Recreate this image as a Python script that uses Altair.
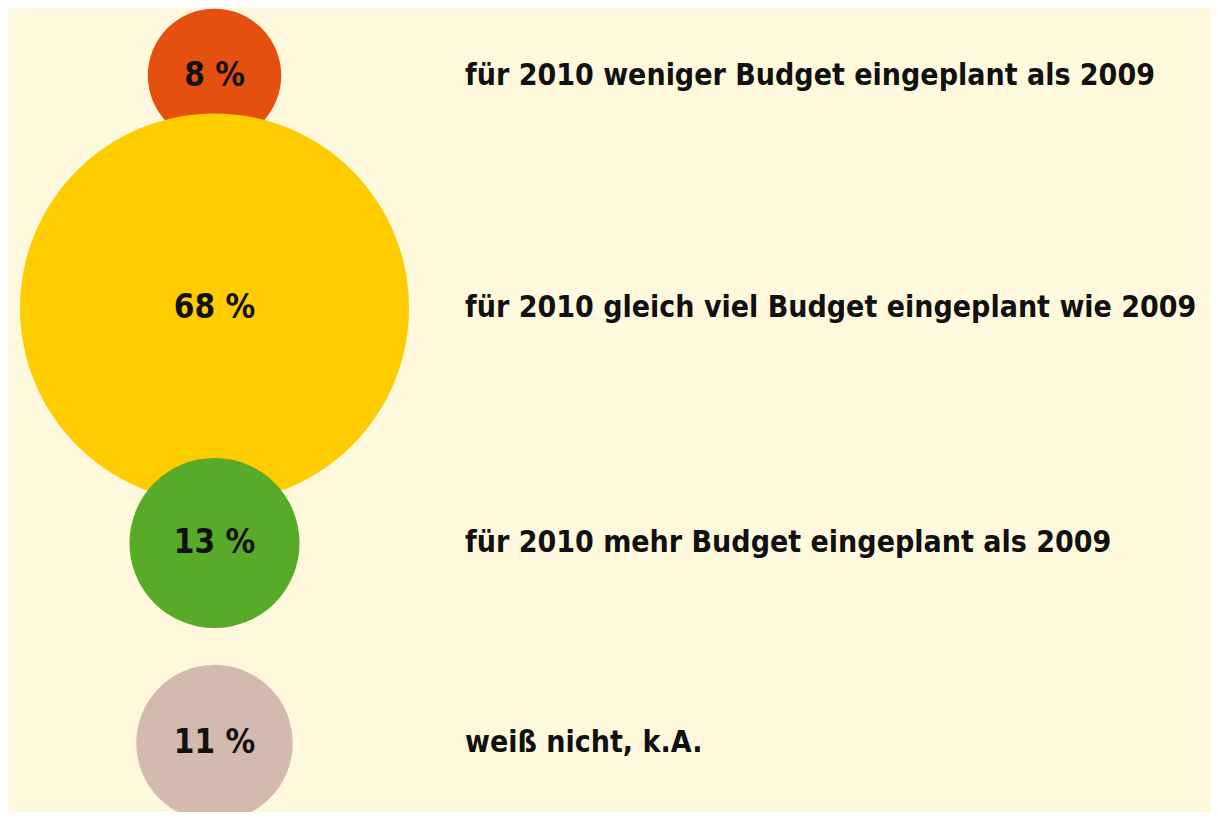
import altair as alt
import pandas as pd

# data
categories = [
    "für 2010 weniger Budget eingeplant als 2009",
    "für 2010 gleich viel Budget eingeplant wie 2009",
    "für 2010 mehr Budget eingeplant als 2009",
    "weiß nicht, k.A.",
]
values = [8, 68, 13, 11]
colors = ["#E55010", "#FFCC00", "#57AB28", "#D3B9AF"]

df = pd.DataFrame({"cat": categories, "value": values})
df["row"] = list(range(len(categories)))
df["label"] = [f"{v} %" for v in values]

W, H = 1202, 804
FONT = "DejaVu Sans Condensed"

# piecewise-linear row scale (rows are not evenly spaced in the original)
y_enc = alt.Y("row:Q", axis=None,
              scale=alt.Scale(type="linear", domain=[0, 1, 2, 3],
                              range=[67.5, 300, 535, 735], zero=False, nice=False))

base = alt.Chart(df)

circles = base.mark_circle(opacity=1).encode(
    x=alt.value(206.5),
    y=y_enc,
    size=alt.Size("value:Q", legend=None,
                  scale=alt.Scale(type="linear", domain=[0, 68], range=[0, 151321], zero=True)),
    color=alt.Color("cat:N", legend=None, sort=categories,
                    scale=alt.Scale(domain=categories, range=colors)),
)

pct = base.mark_text(font=FONT, fontSize=33, fontWeight="bold", color="#111111",
                     align="center", baseline="middle").encode(
    x=alt.value(206.5),
    y=y_enc,
    text="label:N",
)

desc = base.mark_text(font=FONT, fontSize=30, fontWeight="bold", color="#111111",
                      align="left", baseline="middle").encode(
    x=alt.value(457),
    y=y_enc,
    text="cat:N",
)

chart = alt.layer(circles, pct, desc).properties(
    width=W, height=H, background="#FEF8DC", padding=0,
    autosize=alt.AutoSizeParams(type="none"),
).configure_view(stroke=None)

chart.save("out.html", embed_options={"renderer": "svg", "actions": False})
